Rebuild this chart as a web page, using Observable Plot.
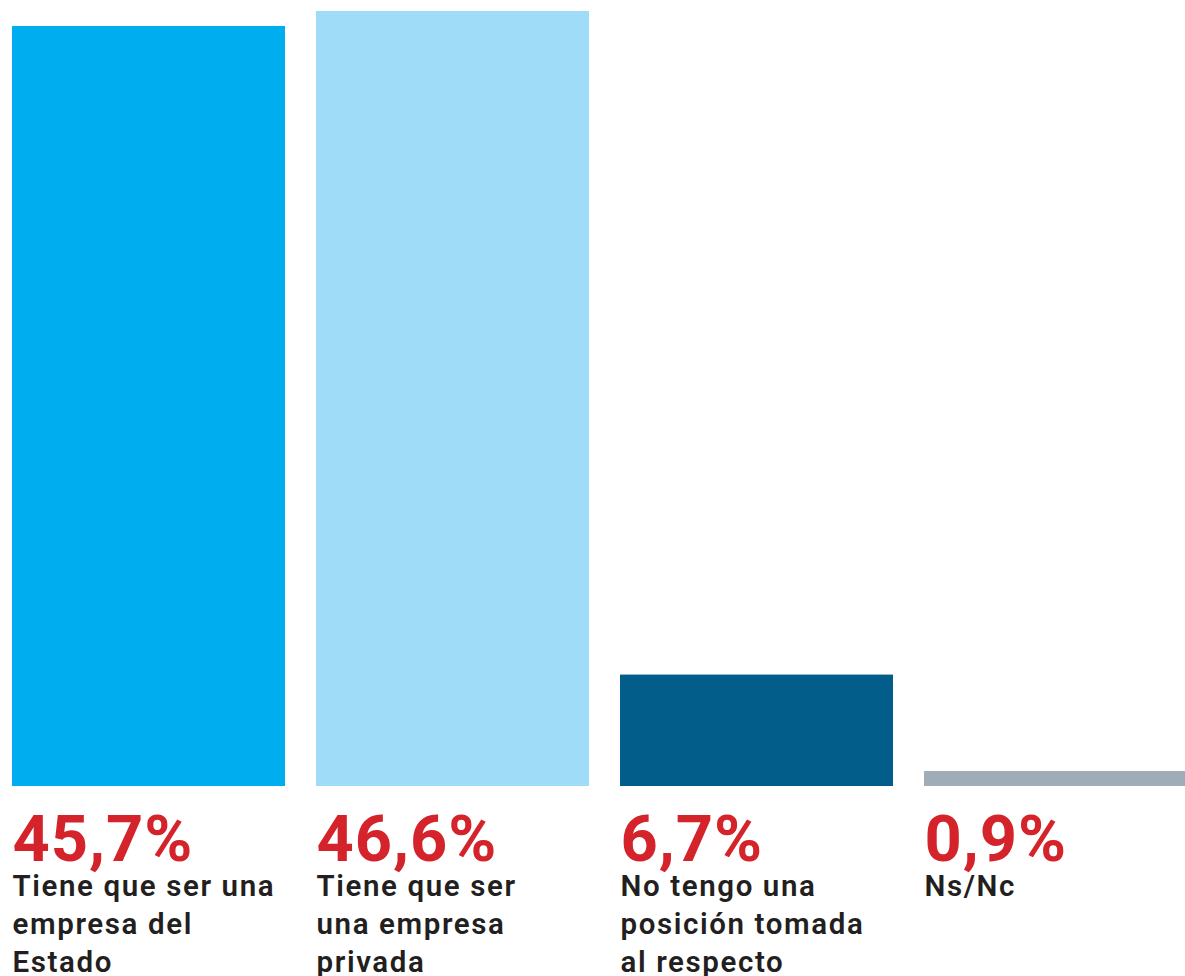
<!DOCTYPE html>
<html>
<head>
<meta charset="utf-8">
<script src="https://cdn.jsdelivr.net/npm/d3@7"></script>
<script src="https://cdn.jsdelivr.net/npm/@observablehq/plot@0.6"></script>
<style>
  html, body { margin: 0; padding: 0; background: #fff; overflow: hidden; }
  #chart svg { display: block; }
</style>
</head>
<body>
<div id="chart"></div>
<script>
const categories = [
  "Tiene que ser una\nempresa del\nEstado",
  "Tiene que ser\nuna empresa\nprivada",
  "No tengo una\nposición tomada\nal respecto",
  "Ns/Nc"
];
const values = [45.7, 46.6, 6.7, 0.9];
const valueLabels = ["45,7%", "46,6%", "6,7%", "0,9%"];
const colors = ["#00aeef", "#9edcf7", "#035d8a", "#a0adb7"];

const data = categories.map((c, i) => ({cat: c, value: values[i], label: valueLabels[i], color: colors[i]}));

const bandwidth = 273;
const chart = Plot.plot({
  width: 1185,
  height: 976,
  marginTop: 11,
  marginBottom: 190,
  marginLeft: 12,
  marginRight: 0,
  x: {domain: categories, range: [12, 1197], paddingInner: 31 / 304, paddingOuter: 0, axis: null},
  y: {domain: [0, 46.6], axis: null},
  marks: [
    Plot.barY(data, {x: "cat", y: "value", fill: "color"}),
    Plot.text(data, {
      x: "cat", y: 0, text: "label",
      textAnchor: "start", lineAnchor: "bottom",
      dx: -bandwidth / 2, dy: 74,
      fill: "#d4232a", fontSize: 65, fontWeight: 700,
      fontFamily: "Roboto, sans-serif"
    }),
    Plot.text(data, {
      x: "cat", y: 0, text: "cat",
      textAnchor: "start", lineAnchor: "top",
      dx: -bandwidth / 2, dy: 82, lineHeight: 1.29,
      fill: "#231f20", fontSize: 29.5, fontWeight: 600,
      fontFamily: "Roboto, sans-serif"
    })
  ]
});
const groups = d3.select(chart).selectAll("g[aria-label='text']");
groups.filter((d, i) => i === 0).style("letter-spacing", "1px");
groups.filter((d, i) => i === 1).style("letter-spacing", "1.6px");
document.getElementById("chart").append(chart);
</script>
</body>
</html>
